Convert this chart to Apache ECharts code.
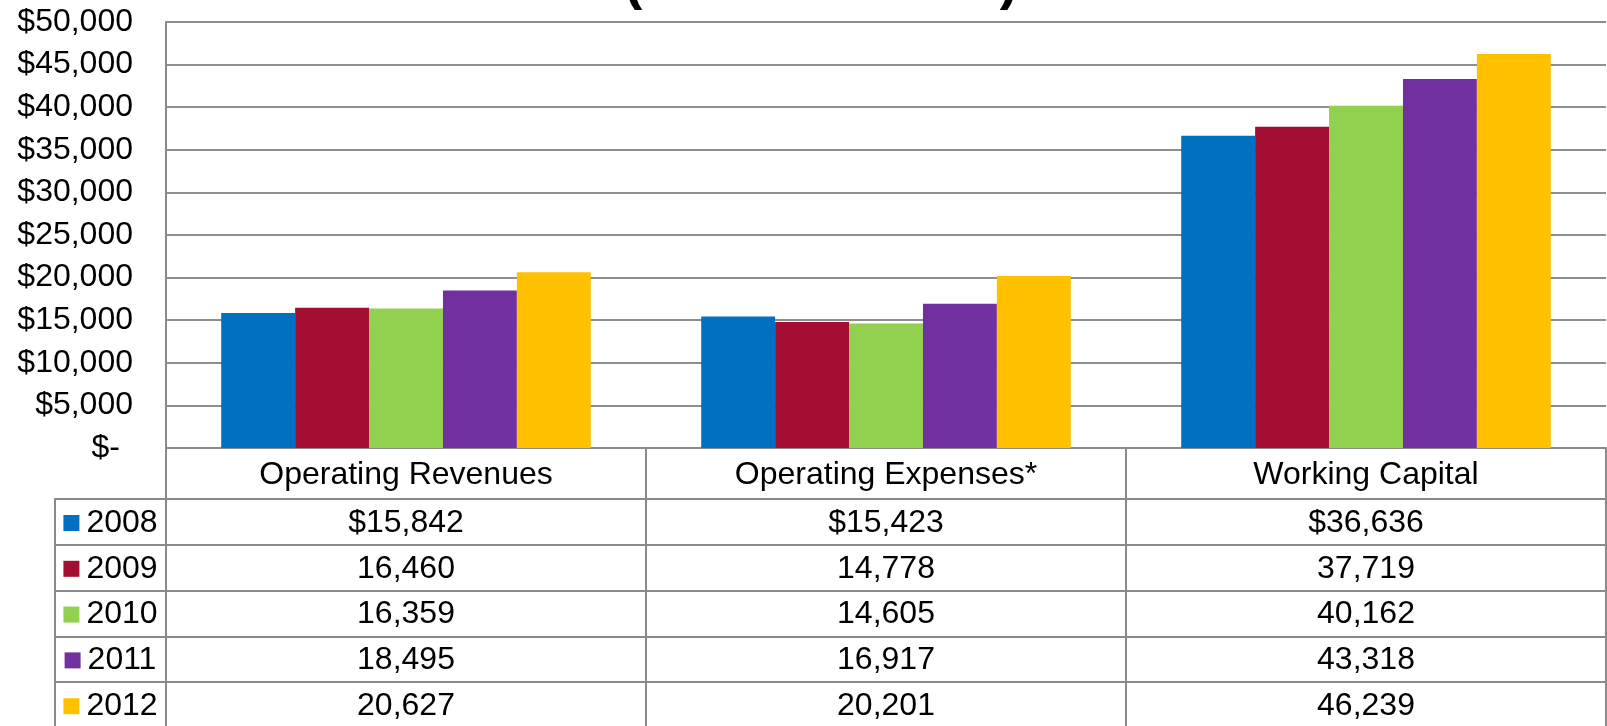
<!DOCTYPE html>
<html>
<head>
<meta charset="utf-8">
<script src="https://cdn.jsdelivr.net/npm/echarts@6/dist/echarts.min.js"></script>
<style>
html,body{margin:0;padding:0;background:#fff;}
#chart{width:1607px;height:726px;}
</style>
</head>
<body>
<div id="chart"></div>
<script>
const categories = ['Operating Revenues', 'Operating Expenses*', 'Working Capital'];
const years = ['2008', '2009', '2010', '2011', '2012'];
const v2008 = [15842, 15423, 36636];
const v2009 = [16460, 14778, 37719];
const v2010 = [16359, 14605, 40162];
const v2011 = [18495, 16917, 43318];
const v2012 = [20627, 20201, 46239];
const yMin = 0, yMax = 50000, yStep = 5000;
const titleText = '(in Thousands)';

const seriesValues = [v2008, v2009, v2010, v2011, v2012];
const colors = ['#0070C0', '#A50E33', '#92D050', '#7030A0', '#FFC000'];
const FONT = '"Liberation Sans", Arial, sans-serif';
const LINE = '#8a8a8a';
const FS = 32;

function fmt(n) { return String(n).replace(/\B(?=(\d{3})+(?!\d))/g, ','); }

const headerH = 51, rowH = 45.8;

const xAxes = [{
  gridIndex: 0, type: 'category', data: categories, position: 'bottom',
  axisLine: { show: true, onZero: false, lineStyle: { color: LINE, width: 2 } },
  axisTick: { show: true, length: 282, lineStyle: { color: LINE, width: 2 } },
  axisLabel: { fontSize: FS, color: '#000', fontFamily: FONT, margin: 11, lineHeight: FS }
}];
seriesValues.forEach((vals, k) => {
  xAxes.push({
    gridIndex: 0, type: 'category', position: 'bottom', offset: headerH + rowH * k,
    data: vals.map(v => (k === 0 ? '$' : '') + fmt(v)),
    axisLine: { show: true, onZero: false, lineStyle: { color: LINE, width: 2 } },
    axisTick: { show: false },
    axisLabel: { fontSize: FS, color: '#000', fontFamily: FONT, margin: 8, lineHeight: FS }
  });
});
years.forEach((y, k) => {
  xAxes.push({
    gridIndex: 1, type: 'category', position: 'bottom', offset: headerH + rowH * k,
    data: [y],
    axisLine: { show: true, onZero: false, lineStyle: { color: LINE, width: 2 } },
    axisTick: { show: k === 0, length: 240, lineStyle: { color: LINE, width: 2 } },
    axisLabel: {
      margin: 8,
      formatter: v => '{sq|}{t|' + v + '}',
      rich: {
        sq: { width: 16, height: 16, backgroundColor: colors[k] },
        t: { fontSize: FS, color: '#000', fontFamily: FONT, padding: [0, 0, 0, 7], lineHeight: FS }
      }
    }
  });
});

const option = {
  animation: false,
  backgroundColor: '#fff',
  title: {
    text: titleText, left: 619, top: -50,
    textStyle: { fontSize: 55, fontWeight: 'bold', color: '#000', fontFamily: FONT }
  },
  grid: [
    { left: 166, right: 1, top: 22, bottom: 278 },
    { left: 55, width: 111, top: 22, bottom: 278 }
  ],
  xAxis: xAxes,
  yAxis: [{
    gridIndex: 0, type: 'value', min: yMin, max: yMax, interval: yStep,
    axisLine: { show: true, lineStyle: { color: LINE, width: 2 } },
    axisTick: { show: false },
    splitLine: { show: true, lineStyle: { color: '#8e8e8e', width: 2 } },
    axisLabel: {
      fontSize: FS, color: '#000', fontFamily: FONT, margin: 33,
      formatter: v => v === 0 ? '{z|$-}' : '$' + fmt(v),
      rich: { z: { fontSize: FS, color: '#000', fontFamily: FONT, padding: [0, 13, 0, 0] } }
    }
  }, {
    gridIndex: 1, type: 'value', show: false
  }],
  series: seriesValues.map((vals, k) => ({
    name: years[k], type: 'bar', xAxisIndex: 0, yAxisIndex: 0,
    data: vals, barGap: '0%', barCategoryGap: '23%',
    itemStyle: { color: colors[k] }
  }))
};

const chart = echarts.init(document.getElementById('chart'), null, { renderer: 'canvas' });
chart.setOption(option);
</script>
</body>
</html>
